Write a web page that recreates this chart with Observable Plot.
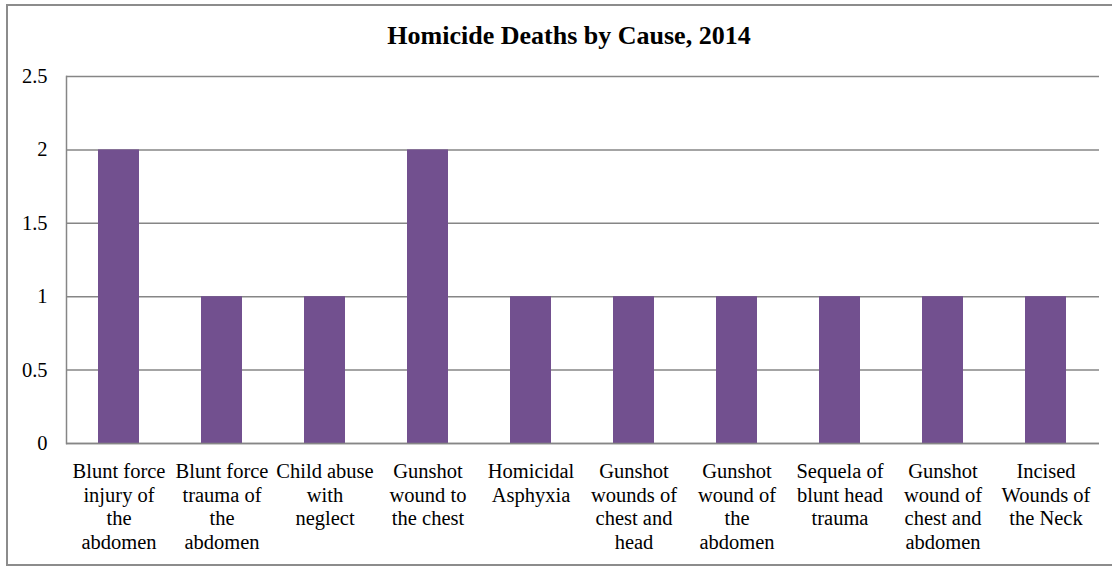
<!DOCTYPE html>
<html>
<head>
<meta charset="utf-8">
<script src="https://cdn.jsdelivr.net/npm/d3@7"></script>
<script src="https://cdn.jsdelivr.net/npm/@observablehq/plot@0.6"></script>
<style>
  html, body { margin: 0; padding: 0; width: 1112px; height: 566px; overflow: hidden; background: #fff; }
  #frame { position: absolute; left: 6px; top: 4px; width: 1250px; height: 558px; border: 2px solid #8c8c8c; border-right: none; }
  #title { position: absolute; left: 0; top: 23px; width: 1138px; text-align: center;
           font: bold 26px/26px "Liberation Serif", "Times New Roman", serif; color: #000; }
  #chart { position: absolute; left: 0; top: 0; }
  #chart svg, #chart svg text { font-family: "Liberation Serif", "Times New Roman", serif !important; }
</style>
</head>
<body>
<div id="frame"></div>
<div id="chart"></div>
<div id="title">Homicide Deaths by Cause, 2014</div>
<script>
const categories = [
  "Blunt force injury of the abdomen",
  "Blunt force trauma of the abdomen",
  "Child abuse with neglect",
  "Gunshot wound to the chest",
  "Homicidal Asphyxia",
  "Gunshot wounds of chest and head",
  "Gunshot wound of the abdomen",
  "Sequela of blunt head trauma",
  "Gunshot wound of chest and abdomen",
  "Incised Wounds of the Neck"
];
const deaths = [2, 1, 1, 2, 1, 1, 1, 1, 1, 1];
const tickLabels = [
  "Blunt force\ninjury of\nthe\nabdomen",
  "Blunt force\ntrauma of\nthe\nabdomen",
  "Child abuse\nwith\nneglect",
  "Gunshot\nwound to\nthe chest",
  "Homicidal\nAsphyxia",
  "Gunshot\nwounds of\nchest and\nhead",
  "Gunshot\nwound of\nthe\nabdomen",
  "Sequela of\nblunt head\ntrauma",
  "Gunshot\nwound of\nchest and\nabdomen",
  "Incised\nWounds of\nthe Neck"
];
const yTicks = [0, 0.5, 1, 1.5, 2, 2.5];

const data = categories.map((c, i) => ({cause: c, value: deaths[i]}));
const labelOf = new Map(categories.map((c, i) => [c, tickLabels[i]]));
const grid = "#868686";
const serif = '"Liberation Serif", "Times New Roman", serif';

const chart = Plot.plot({
  width: 1112,
  height: 566,
  marginLeft: 66,
  marginRight: 13,
  marginTop: 76,
  marginBottom: 123,
  style: {fontFamily: serif, color: "#000", background: "transparent"},
  x: {domain: categories, paddingInner: 0.6, paddingOuter: 0.3, label: null},
  y: {domain: [0, 2.5], label: null},
  marks: [
    Plot.ruleY(yTicks, {stroke: grid, strokeWidth: 1.5}),
    Plot.frame({anchor: "left", stroke: grid, strokeWidth: 1.5}),
    Plot.barY(data, {x: "cause", y: "value", fill: "#72508f"}),
    Plot.ruleY([0], {stroke: grid, strokeWidth: 1.5}),
    Plot.axisY({ticks: yTicks, tickSize: 0, tickPadding: 19, fontSize: 20.5, fontFamily: serif, tickFormat: d => String(d), label: null}),
    Plot.axisX({tickSize: 0, tickPadding: 17, fontSize: 20.5, fontFamily: serif, lineHeight: 1.17, tickFormat: d => labelOf.get(d), label: null})
  ]
});
document.getElementById("chart").appendChild(chart);
</script>
</body>
</html>
